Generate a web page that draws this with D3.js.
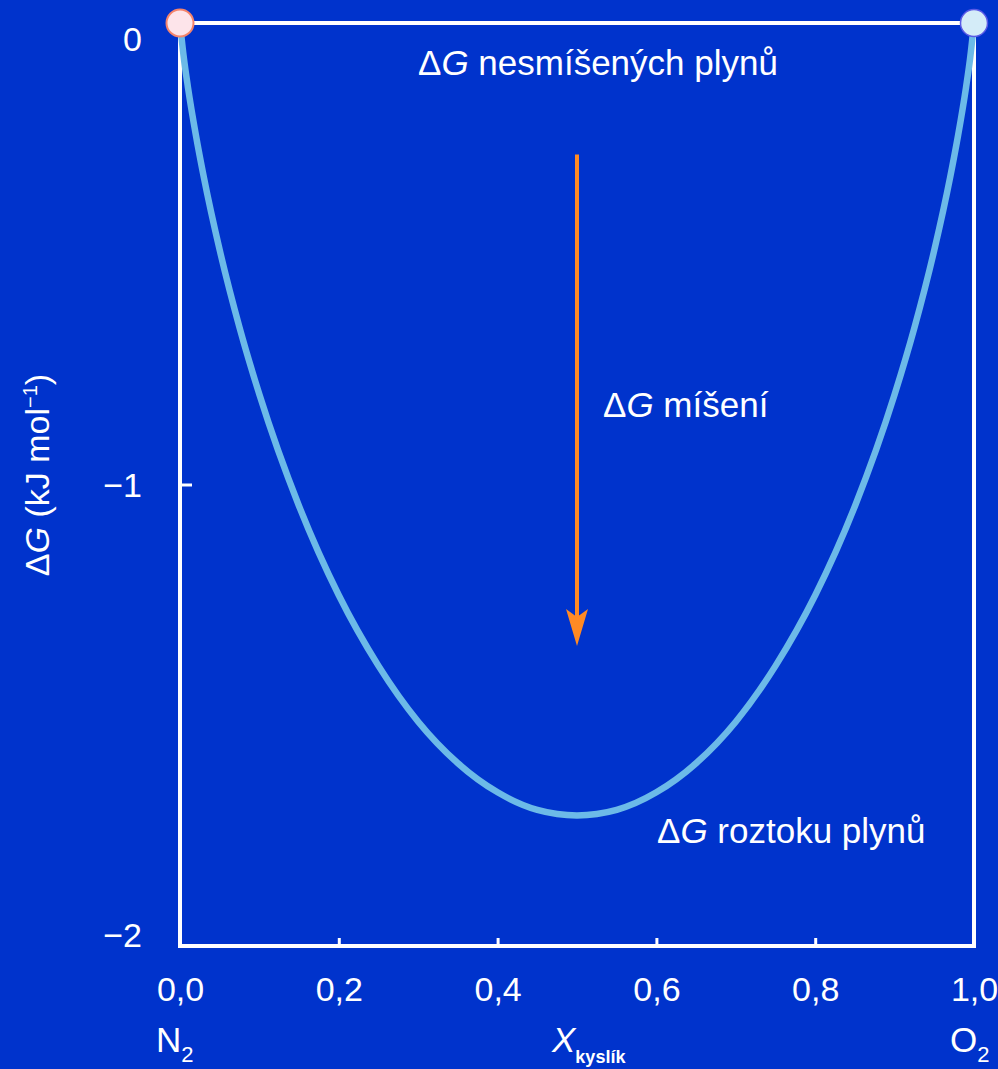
<!DOCTYPE html>
<html><head><meta charset="utf-8">
<script src="https://cdn.jsdelivr.net/npm/d3@7/dist/d3.min.js"></script>
<style>html,body{margin:0;padding:0;background:#0033cc;}svg{display:block;}</style>
</head><body>
<script>
// Mole fraction of oxygen and Gibbs energy of mixing (kJ/mol)
const xOxygen = [0, 0.005, 0.01, 0.02, 0.03, 0.05, 0.075, 0.1, 0.15, 0.2, 0.25, 0.3, 0.35, 0.4, 0.45, 0.5,
                 0.55, 0.6, 0.65, 0.7, 0.75, 0.8, 0.85, 0.9, 0.925, 0.95, 0.97, 0.98, 0.99, 0.995, 1];
const dGmix = [0, -0.078, -0.139, -0.243, -0.334, -0.492, -0.660, -0.805, -1.047, -1.240, -1.393, -1.514, -1.604, -1.667, -1.705, -1.717,
               -1.705, -1.667, -1.604, -1.514, -1.393, -1.240, -1.047, -0.805, -0.660, -0.492, -0.334, -0.243, -0.139, -0.078, 0];
const xTicks = [0, 0.2, 0.4, 0.6, 0.8, 1.0];
const yTicks = [0, -1, -2];
const arrowX = 0.5;
const arrowFrom = -0.285;
const arrowTo = -1.35;
const pureComponents = [{x: 0, y: 0, name: "N2"}, {x: 1, y: 0, name: "O2"}];

const W = 998, H = 1069;
const FONT = "'Liberation Sans', Arial, Helvetica, sans-serif";
const svg = d3.select("body").append("svg").attr("width", W).attr("height", H)
  .style("font-family", FONT);
svg.append("rect").attr("width", W).attr("height", H).attr("fill", "#0033cc");

const x = d3.scaleLinear().domain([0, 1]).range([180, 974]);
const y = d3.scaleLinear().domain([0, -2]).range([23, 946]);

const loc = d3.formatLocale({decimal: ",", thousands: " ", grouping: [3], currency: ["", " Kč"], minus: "\u2212"});
const fx = loc.format(".1f");
const fy = loc.format("d");

// frame
svg.append("rect")
  .attr("x", x(0)).attr("y", y(0))
  .attr("width", x(1) - x(0)).attr("height", y(-2) - y(0))
  .attr("fill", "none").attr("stroke", "#fff").attr("stroke-width", 4);

// y axis
const gy = svg.append("g").attr("transform", `translate(${x(0)},0)`)
  .call(d3.axisLeft(y).tickValues(yTicks).tickFormat(fy).tickSizeInner(-12).tickSizeOuter(0).tickPadding(38));
gy.select(".domain").remove();
gy.selectAll(".tick line").attr("stroke", "#fff").attr("stroke-width", 3);
gy.selectAll(".tick text").attr("fill", "#fff").style("font-size", "34px").style("font-family", FONT)
  .attr("dy", d => d === 0 ? "0.82em" : (d === -2 ? "0.0em" : "0.35em"));

// x axis
const gx = svg.append("g").attr("transform", `translate(0,${y(-2)})`)
  .call(d3.axisBottom(x).tickValues(xTicks).tickFormat(fx).tickSizeInner(-8).tickSizeOuter(0).tickPadding(31));
gx.select(".domain").remove();
gx.selectAll(".tick line").attr("stroke", "#fff").attr("stroke-width", 3);
gx.selectAll(".tick text").attr("fill", "#fff").style("font-size", "34px").style("font-family", FONT);

// curve
const line = d3.line().x((d, i) => x(xOxygen[i])).y(d => y(d)).curve(d3.curveMonotoneX);
svg.append("path").datum(dGmix).attr("d", line)
  .attr("fill", "none").attr("stroke", "#6cbae8").attr("stroke-width", 6.5).attr("stroke-linecap", "round");

// arrow
const ax = x(arrowX), ay0 = y(arrowFrom), ay1 = y(arrowTo);
svg.append("line").attr("x1", ax).attr("x2", ax).attr("y1", ay0).attr("y2", ay1 - 20)
  .attr("stroke", "#ff8a24").attr("stroke-width", 4);
svg.append("path")
  .attr("d", `M${ax},${ay1} L${ax - 11},${ay1 - 37} L${ax},${ay1 - 29} L${ax + 11},${ay1 - 37} Z`)
  .attr("fill", "#ff8a24");

// endpoints
svg.selectAll("circle.pure").data(pureComponents).join("circle")
  .attr("class", "pure")
  .attr("cx", d => x(d.x)).attr("cy", d => y(d.y)).attr("r", 13.5)
  .attr("fill", d => d.name === "N2" ? "#fde4ea" : "#d4ecf8")
  .attr("stroke", d => d.name === "N2" ? "#f4846c" : "#5a5ae6")
  .attr("stroke-width", d => d.name === "N2" ? 2 : 1.5);

// annotations
function dgText(px, py, rest) {
  const t = svg.append("text").attr("x", px).attr("y", py).attr("fill", "#fff").style("font-size", "35px");
  t.append("tspan").text("\u0394");
  t.append("tspan").style("font-style", "italic").text("G");
  t.append("tspan").text(rest);
  return t;
}
dgText(418, 75, " nesmíšených plynů");
dgText(603, 417, " míšení");
dgText(657, 843, " roztoku plynů");

// axis titles
const n2 = svg.append("text").attr("x", 156).attr("y", 1052).attr("fill", "#fff").style("font-size", "35px");
n2.append("tspan").text("N");
n2.append("tspan").attr("dy", 10).style("font-size", "22px").text("2");

const o2 = svg.append("text").attr("x", 950).attr("y", 1052).attr("fill", "#fff").style("font-size", "35px");
o2.append("tspan").text("O");
o2.append("tspan").attr("dy", 10).style("font-size", "22px").text("2");

const xl = svg.append("text").attr("x", 552).attr("y", 1052).attr("fill", "#fff").style("font-size", "35px");
xl.append("tspan").style("font-style", "italic").text("X");
xl.append("tspan").attr("dy", 11).style("font-size", "18px").style("font-weight", "bold").text("kyslík");

const yl = svg.append("text").attr("transform", "translate(49,475) rotate(-90)")
  .attr("text-anchor", "middle").attr("fill", "#fff").style("font-size", "34px");
yl.append("tspan").text("\u0394");
yl.append("tspan").style("font-style", "italic").text("G");
yl.append("tspan").text(" (kJ mol");
yl.append("tspan").attr("dy", -12).style("font-size", "20px").text("\u22121");
yl.append("tspan").attr("dy", 12).text(")");
</script>
</body></html>
